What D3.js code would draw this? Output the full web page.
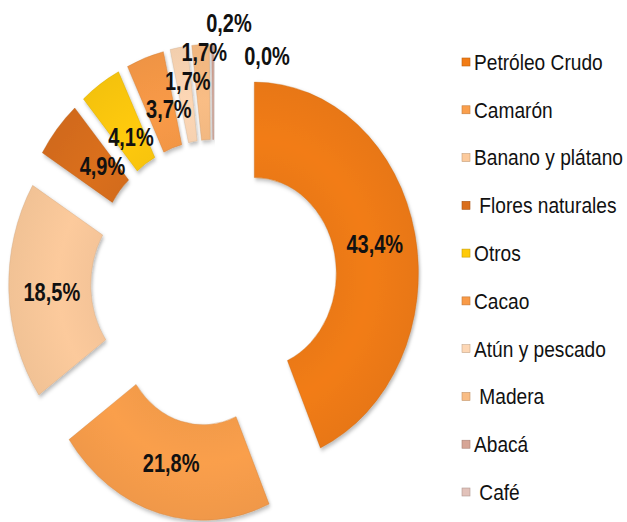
<!DOCTYPE html>
<html>
<head>
<meta charset="utf-8">
<script src="https://cdn.jsdelivr.net/npm/d3@7"></script>
<style>
    body { margin: 0; background: #fff; }
    svg { display: block; }
    text { font-family: "Liberation Sans", Arial, sans-serif; white-space: pre; }
</style>
</head>
<body>
<svg id="chart" width="627" height="522"></svg>
<script>
// export shares (%) - leading spaces in some names are in the original legend
const categories = ["Petróleo Crudo", "Camarón", "Banano y plátano", " Flores naturales", "Otros",
    "Cacao", "Atún y pescado", " Madera", "Abacá", " Café"];
const shares = [43.4, 21.8, 18.5, 4.9, 4.1, 3.7, 1.7, 1.7, 0.2, 0.0];
const sliceColors = ["#f27c15", "#fa9f4c", "#fcca9c", "#da6f1d", "#ffca08",
    "#f99a47", "#fdd7b5", "#f9bd85", "#d6a596", "#e2c2ba"];
// manual label shifts (px) like the dragged labels of the original
const labelShift = [[0, 0], [1, -4], [2, 2], [14, 6], [8, 13], [10, 6], [2, -14], [1, -40], [16, -69], [53, -36]];

const chart = { cx: 214, cy: 283, radius: 191, squeeze: 0.859, hole: 0.5, explode: 48 };

const svg = d3.select("#chart");

function formatShare(v){
    return v.toFixed(1).replace(".", ",") + "%";
}

function addDefs(){
    let defs = svg.append("defs");
    let f = defs.append("filter").attr("id", "shadow")
        .attr("x", "-20%").attr("y", "-20%").attr("width", "140%").attr("height", "140%");
    f.append("feDropShadow").attr("dx", 1.5).attr("dy", 2.5)
        .attr("stdDeviation", 2).attr("flood-color", "#000").attr("flood-opacity", 0.28);

    sliceColors.forEach((c, i) => {
        let g = defs.append("radialGradient").attr("id", "grad" + i)
            .attr("gradientUnits", "userSpaceOnUse")
            .attr("cx", 0).attr("cy", 0).attr("r", chart.radius);
        g.append("stop").attr("offset", "50%").attr("stop-color", d3.color(c).darker(0.08));
        g.append("stop").attr("offset", "70%").attr("stop-color", c);
        g.append("stop").attr("offset", "100%").attr("stop-color", d3.color(c).darker(0.12));
    });
}

function drawDonut(){
    let pie = d3.pie().sort(null).value(d => d)(shares);
    let arc = d3.arc()
        .innerRadius(chart.radius * chart.hole)
        .outerRadius(chart.radius);

    let mid = d => (d.startAngle + d.endAngle) / 2;
    let shift = d => [chart.explode * Math.sin(mid(d)), -chart.explode * Math.cos(mid(d))];

    let g = svg.append("g")
        .attr("transform", `translate(${chart.cx},${chart.cy}) scale(${chart.squeeze},1)`);

    g.selectAll("path.slice")
        .data(pie.filter(d => d.value > 0))
        .join("path")
        .attr("class", "slice")
        .attr("transform", d => `translate(${shift(d)})`)
        .attr("d", arc)
        .attr("fill", d => `url(#grad${d.index})`)
        .attr("stroke", d => d3.color(sliceColors[d.index]).darker(0.6))
        .attr("stroke-opacity", 0.5)
        .attr("stroke-width", 0.8)
        .attr("filter", "url(#shadow)");

    // labels at the middle of the ring, then shifted
    let labelRadius = chart.radius * (1 + chart.hole) / 2;
    svg.append("g").selectAll("text")
        .data(pie)
        .join("text")
        .attr("transform", d => {
            let s = shift(d);
            let x = chart.cx + (s[0] + labelRadius * Math.sin(mid(d))) * chart.squeeze + labelShift[d.index][0];
            let y = chart.cy + s[1] - labelRadius * Math.cos(mid(d)) + labelShift[d.index][1];
            return `translate(${x},${y}) scale(0.8,1)`;
        })
        .attr("text-anchor", "middle")
        .attr("dy", "0.36em")
        .attr("font-size", 25)
        .attr("font-weight", "bold")
        .attr("fill", "#111")
        .text(d => formatShare(d.value));
}

function drawLegend(){
    let y = d3.scalePoint().domain(categories).range([62, 492]);
    let rows = svg.append("g").selectAll("g")
        .data(categories)
        .join("g")
        .attr("transform", d => `translate(462,${y(d)})`);

    rows.append("rect")
        .attr("x", 0).attr("y", -4)
        .attr("width", 8).attr("height", 8)
        .attr("fill", (d, i) => sliceColors[i])
        .attr("stroke", (d, i) => d3.color(sliceColors[i]).darker(0.7))
        .attr("stroke-width", 0.6);

    rows.append("text")
        .attr("transform", "translate(12,0) scale(0.87,1)")
        .attr("dy", "0.36em")
        .attr("font-size", 22)
        .attr("fill", "#111")
        .text(d => d);
}

addDefs();
drawDonut();
drawLegend();
</script>
</body>
</html>
